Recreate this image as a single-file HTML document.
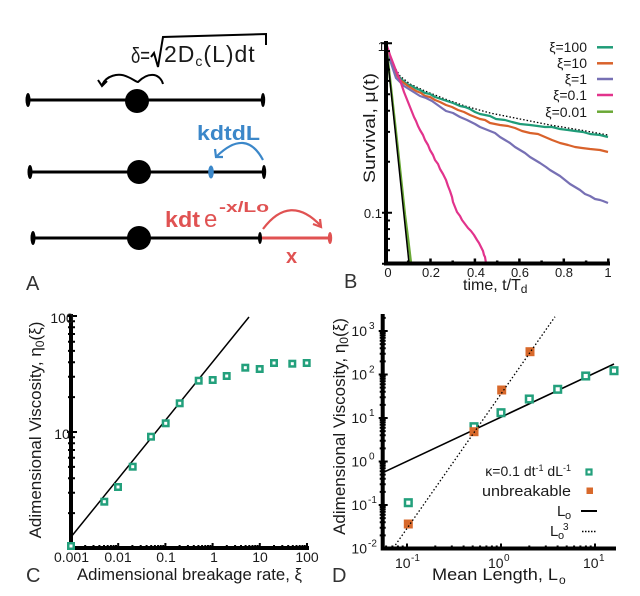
<!DOCTYPE html>
<html><head><meta charset="utf-8"><style>
html,body{margin:0;padding:0;background:#fff;}
svg{display:block;}
text{font-family:"Liberation Sans",sans-serif;fill:#1a1a1a;}
</style></head><body>
<svg width="640" height="596" viewBox="0 0 640 596" xmlns="http://www.w3.org/2000/svg">
<rect width="640" height="596" fill="#fff"/>

<!-- ================= PANEL A ================= -->
<g stroke="#000" stroke-width="3" stroke-linecap="round">
  <line x1="28" y1="100" x2="263" y2="100"/>
  <line x1="30" y1="172" x2="264" y2="172"/>
  <line x1="33" y1="238" x2="260" y2="238"/>
</g>
<line x1="260" y1="238" x2="330" y2="238" stroke="#e05252" stroke-width="3"/>
<g fill="#000">
  <ellipse cx="28" cy="100" rx="2.5" ry="7"/>
  <ellipse cx="263" cy="100" rx="2.2" ry="7"/>
  <ellipse cx="30" cy="172" rx="2.5" ry="7"/>
  <ellipse cx="264" cy="172" rx="2.2" ry="7"/>
  <ellipse cx="33" cy="238" rx="2.5" ry="7"/>
  <ellipse cx="260" cy="238" rx="2" ry="6"/>
  <circle cx="137" cy="101" r="12"/>
  <circle cx="139" cy="172" r="12"/>
  <circle cx="139" cy="238" r="12"/>
</g>
<ellipse cx="330" cy="238" rx="2.2" ry="6" fill="#e05252"/>
<ellipse cx="211" cy="172" rx="2.8" ry="6.5" fill="#3b87c9"/>

<!-- formula -->
<text x="131" y="63" font-size="22" textLength="19" lengthAdjust="spacingAndGlyphs">δ=</text>
<path d="M151,57 L154,53 L158,67 L163,37 L266,34 L266,45" fill="none" stroke="#000" stroke-width="2"/>
<text x="164" y="62" font-size="23" letter-spacing="1">2D<tspan font-size="14" dy="4">c</tspan><tspan dy="-4">(L)dt</tspan></text>
<path d="M102,85 C106,76 118,72 128,77 C133,79 136,82 138,82 C141,79 147,74 154,75 C159,76 162,80 163,84" fill="none" stroke="#000" stroke-width="2"/>
<path d="M98,80 L102,86 L107,81" fill="none" stroke="#000" stroke-width="2"/>

<!-- blue -->
<text x="197" y="140" font-size="20" font-weight="bold" style="fill:#3b87c9" textLength="63" lengthAdjust="spacingAndGlyphs">kdtdL</text>
<path d="M263,160 Q246,128 217,156" fill="none" stroke="#3b87c9" stroke-width="2.2"/>
<path d="M215,149 L216,157 L223,157" fill="none" stroke="#3b87c9" stroke-width="2.2"/>

<!-- red -->
<text x="165" y="227" font-size="22" font-weight="bold" style="fill:#e05252" textLength="35" lengthAdjust="spacingAndGlyphs">kdt</text>
<text x="204" y="227" font-size="24" style="fill:#e05252">e</text>
<text x="219" y="212" font-size="15" font-weight="bold" style="fill:#e05252" textLength="50" lengthAdjust="spacingAndGlyphs">-x/Lo</text>
<path d="M263,229 Q290,193 321,226" fill="none" stroke="#e05252" stroke-width="2.2"/>
<path d="M313,224 L321,227 L320,219" fill="none" stroke="#e05252" stroke-width="2.2"/>
<text x="286" y="263" font-size="20" font-weight="bold" style="fill:#e05252">x</text>

<!-- panel letters -->
<text x="26" y="290" font-size="20" style="fill:#333">A</text>
<text x="344" y="288" font-size="20" style="fill:#333">B</text>
<text x="26" y="582" font-size="20" style="fill:#333">C</text>
<text x="332" y="582" font-size="20" style="fill:#333">D</text>

<!-- ================= PANEL B ================= -->
<g fill="none" stroke-linejoin="round">
  <polyline points="386,43 392,63 400,76 410,84 425,91 445,99 465,106 490,113 520,119 550,125 580,130 608,135" stroke="#000" stroke-width="1.3" stroke-dasharray="1.5,2"/>
  <polyline points="386,43 389,55 392,65 396,73 401,79 407,84 412,86 415,88 420,90 425,93 430,94 435,97 441,99 447,101 453,103 460,106 465,107 470,109 475,112 480,114 490,116 496,119 505,120 512,122 520,124 530,125 545,127 552,127 560,129 568,130 575,131 583,132 590,134 600,135 608,137" stroke="#1f9c78" stroke-width="2.2"/>
  <polyline points="386,43 390,58 395,72 400,80 408,86 416,91 421,93 425,96 430,97 435,100 440,102 446,105 452,107 458,110 464,112 470,115 475,117 480,119 485,120 490,123 500,125 508,126 515,128 522,131 530,133 538,134 545,137 552,140 560,143 568,145 575,147 582,148 590,149 600,150 608,152" stroke="#d9622b" stroke-width="2.2"/>
  <polyline points="386,43 390,60 396,78 404,86 412,91 420,96 426,98 432,101 439,106 446,111 453,113 460,117 467,120 475,124 480,127 485,129 490,131 495,133 500,137 505,140 510,143 515,147 520,150 525,153 530,157 535,160 540,163 546,167 550,170 555,173 560,176 565,180 570,184 575,187 580,190 585,194 590,196 595,199 600,200 603,201 608,203" stroke="#7770b4" stroke-width="2.2"/>
  <polyline points="386,43 390,55 395,68 400,80 402,86 404,92 406,97 408,102 410,107 412,112 414,117 416,121 418,126 420,130 423,135 425,140 428,145 430,150 433,155 435,160 438,164 440,169 443,174 446,180 448,186 450,191 452,197 453,202 455,207 457,212 460,216 462,220 465,224 468,228 471,231 474,235 477,240 479,243 481,247 483,251 484,255 485,257 486,263" stroke="#e2338c" stroke-width="2.2"/>
  <polyline points="386,43 398,150 405,215 408,238 411,263" stroke="#6aa836" stroke-width="2.4"/>
  <line x1="386" y1="43" x2="409" y2="263" stroke="#000" stroke-width="1.5"/>
</g>
<g stroke="#000" fill="none">
  <path d="M386,41 V265.5 M384,263.5 H610" stroke-width="4"/>
  <path d="M386,263.7h5 M386,250.3h4 M386,238.9h4 M386,229.1h4 M386,220.5h4 M386,212.7h6 M386,161.7h4 M386,131.9h4 M386,110.7h4 M386,94.3h4 M386,80.9h4 M386,69.6h4 M386,59.7h4 M386,51.1h4 M386,43.3h6 M386,263.7h-4 M386,212.7h-4 M386,43.3h-4" stroke-width="2"/>
  <path d="M408.2,263.5v-3 M430.5,263.5v-5 M452.7,263.5v-3 M474.9,263.5v-5 M497.2,263.5v-3 M519.4,263.5v-5 M541.6,263.5v-3 M563.8,263.5v-5 M586.1,263.5v-3 M608.3,263.5v-5" stroke-width="2.5"/>
</g>
<g font-size="13">
  <text x="385" y="51" text-anchor="end">1</text>
  <text x="382" y="218" text-anchor="end">0.1</text>
  <text x="388" y="277" text-anchor="middle">0</text>
  <text x="431" y="277" text-anchor="middle">0.2</text>
  <text x="476" y="277" text-anchor="middle">0.4</text>
  <text x="520" y="277" text-anchor="middle">0.6</text>
  <text x="564" y="277" text-anchor="middle">0.8</text>
  <text x="608" y="277" text-anchor="middle">1</text>
</g>
<text x="463" y="290" font-size="16">time, t/T<tspan font-size="12" dy="3">d</tspan></text>
<text transform="translate(375,128) rotate(-90)" text-anchor="middle" font-size="17" textLength="110" lengthAdjust="spacingAndGlyphs">Survival, μ(t)</text>
<g font-size="14" text-anchor="end">
  <text x="587" y="52">ξ=100</text>
  <text x="587" y="68">ξ=10</text>
  <text x="587" y="84">ξ=1</text>
  <text x="587" y="100">ξ=0.1</text>
  <text x="587" y="117">ξ=0.01</text>
</g>
<g stroke-width="2.5">
  <line x1="597" y1="47.3" x2="613" y2="47.3" stroke="#1f9c78"/>
  <line x1="597" y1="63.3" x2="613" y2="63.3" stroke="#d9622b"/>
  <line x1="597" y1="79" x2="613" y2="79" stroke="#7770b4"/>
  <line x1="597" y1="95" x2="613" y2="95" stroke="#e2338c"/>
  <line x1="597" y1="111.7" x2="613" y2="111.7" stroke="#6aa836"/>
</g>

<!-- ================= PANEL C ================= -->
<line x1="71" y1="537" x2="249" y2="317" stroke="#000" stroke-width="1.5"/>
<g stroke="#000" fill="none">
  <path d="M71,314 V550 M69,548 H309" stroke-width="4"/>
  <path d="M71,513.1h4 M71,492.7h4 M71,478.2h4 M71,466.9h4 M71,457.7h4 M71,450h4 M71,443.2h4 M71,437.3h4 M71,432h6 M71,397.1h4 M71,376.7h4 M71,362.2h4 M71,350.9h4 M71,341.7h4 M71,334h4 M71,327.2h4 M71,321.3h4 M71,316h6 M71,513.1h-3 M71,492.7h-3 M71,478.2h-3 M71,466.9h-3 M71,457.7h-3 M71,450h-3 M71,443.2h-3 M71,437.3h-3 M71,432h-4 M71,397.1h-3 M71,376.7h-3 M71,362.2h-3 M71,350.9h-3 M71,341.7h-3 M71,334h-3 M71,327.2h-3 M71,321.3h-3 M71,316h-4" stroke-width="2"/>
  <path d="M85.2,548v-3 M93.5,548v-3 M99.4,548v-3 M104,548v-3 M107.7,548v-3 M110.9,548v-3 M113.6,548v-3 M116,548v-3 M118.2,548v-5 M132.4,548v-3 M140.7,548v-3 M146.6,548v-3 M151.2,548v-3 M154.9,548v-3 M158.1,548v-3 M160.8,548v-3 M163.2,548v-3 M165.4,548v-5 M179.6,548v-3 M187.9,548v-3 M193.8,548v-3 M198.4,548v-3 M202.1,548v-3 M205.3,548v-3 M208,548v-3 M210.4,548v-3 M212.6,548v-5 M226.8,548v-3 M235.1,548v-3 M241,548v-3 M245.6,548v-3 M249.3,548v-3 M252.5,548v-3 M255.2,548v-3 M257.6,548v-3 M259.8,548v-5 M274,548v-3 M282.3,548v-3 M288.2,548v-3 M292.8,548v-3 M296.5,548v-3 M299.7,548v-3 M302.4,548v-3 M304.8,548v-3 M307,548v-5" stroke-width="2"/>
</g>
<g fill="#fff" stroke="#23a07c" stroke-width="2.5">
  <rect x="68.25" y="543.25" width="5.5" height="5.5"/>
  <rect x="101.55" y="498.95" width="5.5" height="5.5"/>
  <rect x="115.25" y="484.25" width="5.5" height="5.5"/>
  <rect x="129.95" y="463.95" width="5.5" height="5.5"/>
  <rect x="148.25" y="433.95" width="5.5" height="5.5"/>
  <rect x="162.95" y="420.55" width="5.5" height="5.5"/>
  <rect x="176.95" y="400.55" width="5.5" height="5.5"/>
  <rect x="195.95" y="377.95" width="5.5" height="5.5"/>
  <rect x="209.95" y="377.25" width="5.5" height="5.5"/>
  <rect x="223.95" y="373.25" width="5.5" height="5.5"/>
  <rect x="242.55" y="364.95" width="5.5" height="5.5"/>
  <rect x="256.95" y="366.25" width="5.5" height="5.5"/>
  <rect x="271.25" y="360.25" width="5.5" height="5.5"/>
  <rect x="289.55" y="360.95" width="5.5" height="5.5"/>
  <rect x="303.95" y="360.25" width="5.5" height="5.5"/>
</g>
<g font-size="14" text-anchor="middle">
  <text x="62" y="323">100</text>
  <text x="62" y="439">10</text>
  <text x="71.5" y="562">0.001</text>
  <text x="118" y="562">0.01</text>
  <text x="166" y="562">0.1</text>
  <text x="214" y="562">1</text>
  <text x="260" y="562">10</text>
  <text x="307" y="562">100</text>
</g>
<text x="189.5" y="580" text-anchor="middle" font-size="17" textLength="225" lengthAdjust="spacingAndGlyphs">Adimensional breakage rate, ξ</text>
<text transform="translate(41,430) rotate(-90)" text-anchor="middle" font-size="17">Adimensional Viscosity, η<tspan font-size="12" dy="3">0</tspan><tspan dy="-3">(ξ)</tspan></text>

<!-- ================= PANEL D ================= -->
<line x1="382.7" y1="472.7" x2="614" y2="364" stroke="#000" stroke-width="1.6"/>
<g stroke="#000" fill="none">
  <path d="M382.7,314 V550.5 M380.7,548.5 H616" stroke-width="4"/>
  <path d="M382.7,535.4h3 M382.7,527.7h3 M382.7,522.3h3 M382.7,518.1h3 M382.7,514.7h3 M382.7,511.7h3 M382.7,509.2h3 M382.7,507h3 M382.7,505h5 M382.7,491.9h3 M382.7,484.2h3 M382.7,478.8h3 M382.7,474.6h3 M382.7,471.2h3 M382.7,468.2h3 M382.7,465.7h3 M382.7,463.5h3 M382.7,461.5h5 M382.7,448.4h3 M382.7,440.7h3 M382.7,435.3h3 M382.7,431.1h3 M382.7,427.7h3 M382.7,424.7h3 M382.7,422.2h3 M382.7,420h3 M382.7,418h5 M382.7,404.9h3 M382.7,397.2h3 M382.7,391.8h3 M382.7,387.6h3 M382.7,384.2h3 M382.7,381.2h3 M382.7,378.7h3 M382.7,376.5h3 M382.7,374.5h5 M382.7,361.4h3 M382.7,353.7h3 M382.7,348.3h3 M382.7,344.1h3 M382.7,340.7h3 M382.7,337.7h3 M382.7,335.2h3 M382.7,333h3 M382.7,331h5 M382.7,317.9h3 M382.7,535.4h-3 M382.7,527.7h-3 M382.7,522.3h-3 M382.7,518.1h-3 M382.7,514.7h-3 M382.7,511.7h-3 M382.7,509.2h-3 M382.7,507h-3 M382.7,505h-4 M382.7,491.9h-3 M382.7,484.2h-3 M382.7,478.8h-3 M382.7,474.6h-3 M382.7,471.2h-3 M382.7,468.2h-3 M382.7,465.7h-3 M382.7,463.5h-3 M382.7,461.5h-4 M382.7,448.4h-3 M382.7,440.7h-3 M382.7,435.3h-3 M382.7,431.1h-3 M382.7,427.7h-3 M382.7,424.7h-3 M382.7,422.2h-3 M382.7,420h-3 M382.7,418h-4 M382.7,404.9h-3 M382.7,397.2h-3 M382.7,391.8h-3 M382.7,387.6h-3 M382.7,384.2h-3 M382.7,381.2h-3 M382.7,378.7h-3 M382.7,376.5h-3 M382.7,374.5h-4 M382.7,361.4h-3 M382.7,353.7h-3 M382.7,348.3h-3 M382.7,344.1h-3 M382.7,340.7h-3 M382.7,337.7h-3 M382.7,335.2h-3 M382.7,333h-3 M382.7,331h-4" stroke-width="2"/>
  <path d="M386.1,548.5v-3 M392.4,548.5v-3 M397.9,548.5v-3 M402.7,548.5v-3 M407,548.5v-5 M435.3,548.5v-3 M451.8,548.5v-3 M463.6,548.5v-3 M472.7,548.5v-3 M480.1,548.5v-3 M486.4,548.5v-3 M491.9,548.5v-3 M496.7,548.5v-3 M501,548.5v-5 M529.3,548.5v-3 M545.8,548.5v-3 M557.6,548.5v-3 M566.7,548.5v-3 M574.1,548.5v-3 M580.4,548.5v-3 M585.9,548.5v-3 M590.7,548.5v-3 M595,548.5v-5" stroke-width="2"/>
</g>
<g fill="#fff" stroke="#23a07c" stroke-width="2.5">
  <rect x="405" y="499.4" width="6.6" height="6.6"/>
  <rect x="470.7" y="423.4" width="6.6" height="6.6"/>
  <rect x="497.7" y="409.4" width="6.6" height="6.6"/>
  <rect x="526" y="395.7" width="6.6" height="6.6"/>
  <rect x="554.4" y="386" width="6.6" height="6.6"/>
  <rect x="582.4" y="372.7" width="6.6" height="6.6"/>
  <rect x="610.7" y="367.4" width="6.6" height="6.6"/>
</g>
<g fill="#d8692b">
  <rect x="403.8" y="519.5" width="9" height="9"/>
  <rect x="469.5" y="427.2" width="9" height="9"/>
  <rect x="497.2" y="385.5" width="9" height="9"/>
  <rect x="525.5" y="347.2" width="9" height="9"/>
</g>
<line x1="393.3" y1="548" x2="555" y2="316.7" stroke="#000" stroke-width="1.3" stroke-dasharray="1.5,2.2"/>
<g font-size="14">
  <text x="367" y="336" text-anchor="end">10</text><text x="369" y="329" font-size="10">3</text>
  <text x="367" y="379.5" text-anchor="end">10</text><text x="369" y="372.5" font-size="10">2</text>
  <text x="367" y="423" text-anchor="end">10</text><text x="369" y="416" font-size="10">1</text>
  <text x="367" y="466.5" text-anchor="end">10</text><text x="369" y="459.5" font-size="10">0</text>
  <text x="367" y="510" text-anchor="end">10</text><text x="368" y="503" font-size="10">-1</text>
  <text x="367" y="553.5" text-anchor="end">10</text><text x="368" y="546.5" font-size="10">-2</text>
  <text x="395" y="568">10</text><text x="411" y="561" font-size="10">-1</text>
  <text x="488" y="568">10</text><text x="504" y="561" font-size="10">0</text>
  <text x="583" y="568">10</text><text x="599" y="561" font-size="10">1</text>
</g>
<text x="432" y="580" font-size="17" textLength="126" lengthAdjust="spacingAndGlyphs">Mean Length, L</text>
<text x="559" y="584" font-size="12">o</text>
<text transform="translate(345,426.5) rotate(-90)" text-anchor="middle" font-size="17">Adimensional Viscosity, η<tspan font-size="12" dy="3">0</tspan><tspan dy="-3">(ξ)</tspan></text>
<text x="571" y="476" text-anchor="end" font-size="14">κ=0.1 dt<tspan font-size="9" dy="-5">-1</tspan><tspan dy="5"> dL</tspan><tspan font-size="9" dy="-5">-1</tspan></text>
<text x="571" y="496" text-anchor="end" font-size="15" textLength="89" lengthAdjust="spacingAndGlyphs">unbreakable</text>
<text x="557" y="516" font-size="15">L</text><text x="565" y="519" font-size="11">o</text>
<text x="550" y="536" font-size="15">L</text><text x="558" y="539" font-size="11">o</text><text x="563" y="530" font-size="10">3</text>
<rect x="586.5" y="469.5" width="5" height="5" fill="#fff" stroke="#23a07c" stroke-width="2.2"/>
<rect x="586.5" y="487.5" width="6.5" height="6.5" fill="#d8692b"/>
<line x1="581" y1="511" x2="597" y2="511" stroke="#000" stroke-width="2"/>
<line x1="582" y1="531.5" x2="596" y2="531.5" stroke="#000" stroke-width="1.5" stroke-dasharray="1.5,1.5"/>
</svg>
</body></html>
